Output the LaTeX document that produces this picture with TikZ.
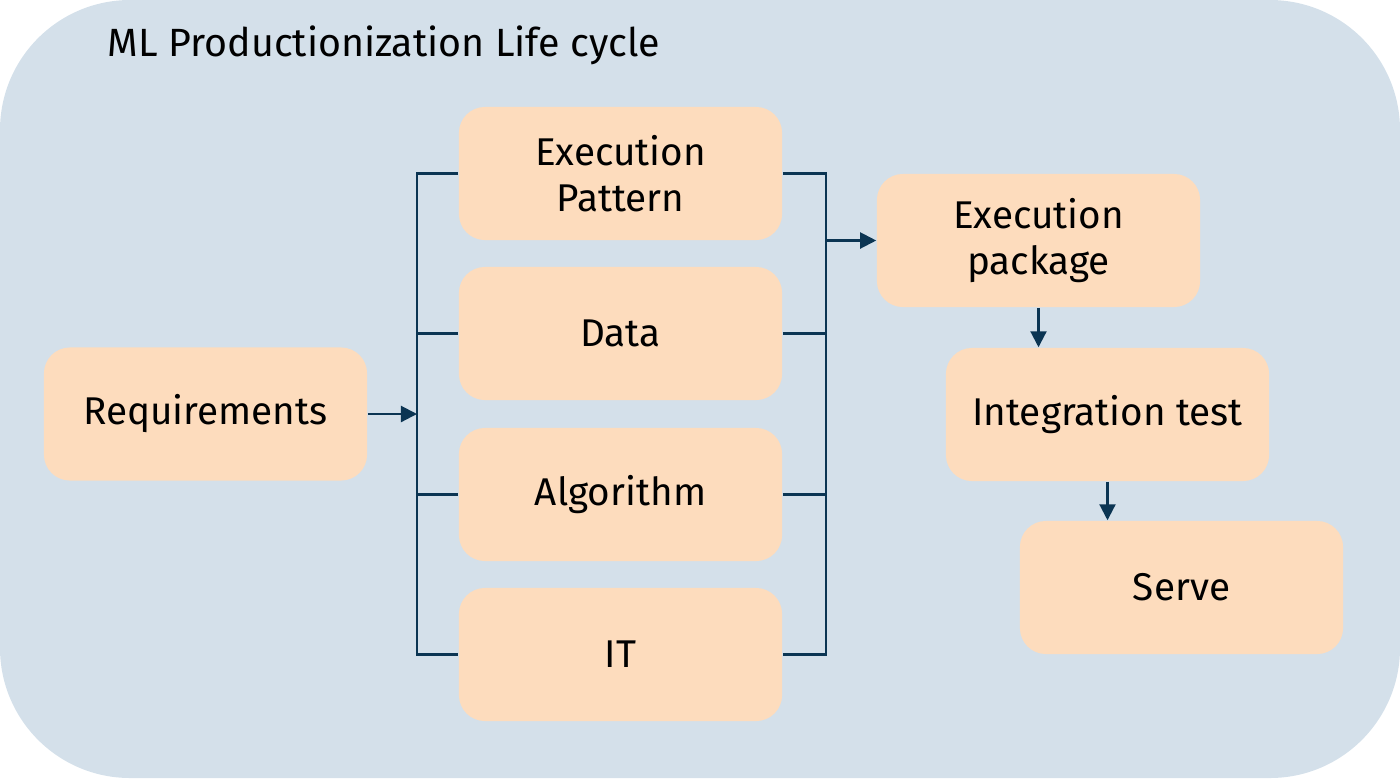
\documentclass[tikz,border=0pt]{standalone}
\usepackage{fontspec}
\setmainfont{Fira Sans}
\usetikzlibrary{arrows.meta}
\definecolor{bgblue}{HTML}{D4E0EA}
\definecolor{peach}{HTML}{FDDCBD}
\definecolor{navy}{HTML}{0B3553}
\tikzset{
  stagebox/.style={fill=peach, rounded corners=0.26cm, minimum width=3.23cm, minimum height=1.33cm, align=center, font=\fontsize{11}{13}\selectfont, text=black, inner sep=0pt},
  conn/.style={draw=navy, line width=0.6pt},
  arr/.style={conn, -{Triangle[length=1.6mm,width=1.6mm]}}
}
\begin{document}
\begin{tikzpicture}[x=0.01cm,y=-0.01cm]
\useasboundingbox (0,0) rectangle (1400,778);
\fill[bgblue, rounded corners=1.3cm] (0,0) rectangle (1400,778);
\node[anchor=west, inner sep=0pt, font=\fontsize{11.2}{14}\selectfont] (title) at (107,45) {ML Productionization Life cycle};
\node[stagebox] (req) at (205.5,414) {Requirements};
\node[stagebox] (ep) at (620.5,173.5) {Execution\\Pattern};
\node[stagebox] (data) at (620.5,333.5) {Data};
\node[stagebox] (algo) at (620.5,494.5) {Algorithm};
\node[stagebox] (it) at (620.5,654.5) {IT};
\node[stagebox] (pkg) at (1038.5,240.5) {Execution\\package};
\node[stagebox] (integ) at (1107.5,414.5) {Integration test};
\node[stagebox] (serve) at (1181.5,587.5) {Serve};
\coordinate (lbus) at (417,173.5);
\coordinate (rbus) at (826,173.5);
\draw[conn] (ep.west) -- (ep.west -| lbus) -- (it.west -| lbus) -- (it.west);
\draw[conn] (data.west) -- (data.west -| lbus);
\draw[conn] (algo.west) -- (algo.west -| lbus);
\draw[arr] (req.east) -- (req.east -| lbus);
\draw[conn] (ep.east) -- (ep.east -| rbus) -- (it.east -| rbus) -- (it.east);
\draw[conn] (data.east) -- (data.east -| rbus);
\draw[conn] (algo.east) -- (algo.east -| rbus);
\draw[arr] (pkg.west -| rbus) -- (pkg.west);
\draw[arr] (pkg.south) -- (pkg.south |- integ.north);
\draw[arr] (integ.south) -- (integ.south |- serve.north);
\end{tikzpicture}
\end{document}
